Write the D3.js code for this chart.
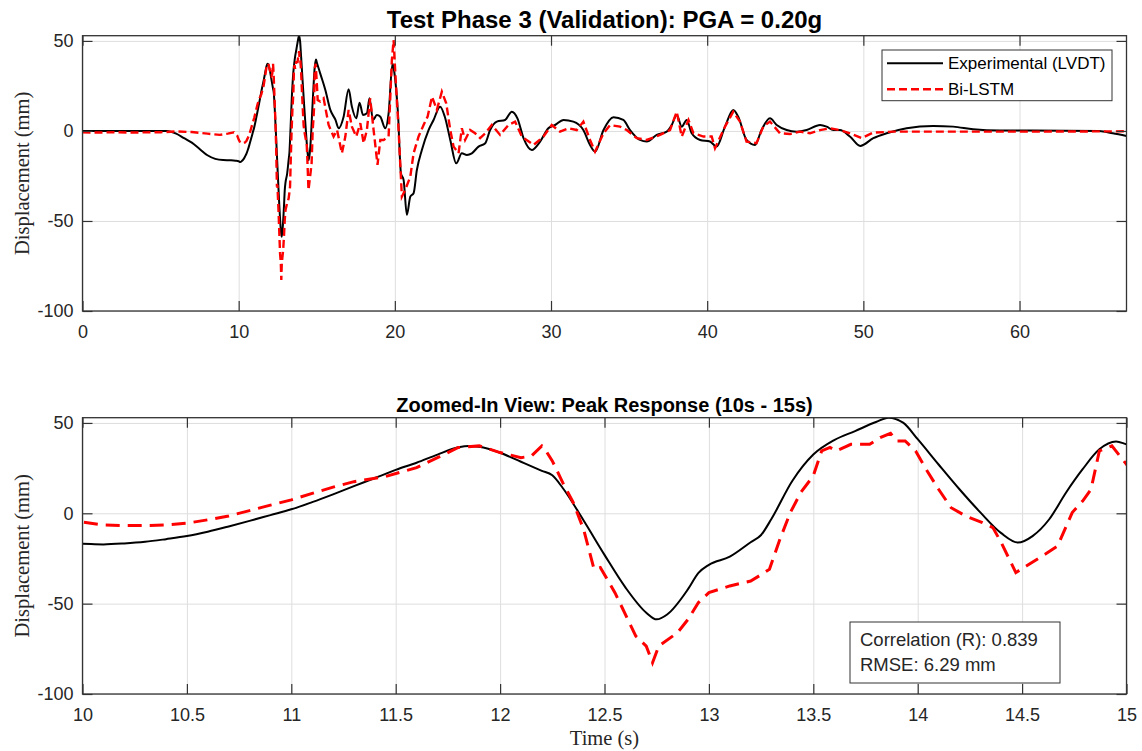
<!DOCTYPE html>
<html>
<head>
<meta charset="utf-8">
<script src="https://cdn.jsdelivr.net/npm/d3@7"></script>
<style>
body { margin: 0; background: #fff; }
svg { display: block; font-family: "Liberation Sans", Arial, sans-serif; }
.tick text { fill: #262626; font-size: 18px; }
.grid line { stroke: #dedede; stroke-width: 1; }
.grid path, .ticks path, .lbl path { display: none; }
.ticks line { stroke: #333; stroke-width: 1.2; }
.lbl line { display: none; }
.frame { fill: none; stroke: #333; stroke-width: 1.3; }
.ylab, .xlab { font-family: "Liberation Serif", "Times New Roman", serif; font-size: 20.5px; fill: #262626; }
</style>
</head>
<body>
<script>
// experimental (LVDT) displacement, mm
var tExp = [0, 5.4, 6.0, 6.5, 7.0, 7.5, 8.0, 8.5, 9.0, 9.5, 9.8, 10.0, 10.1, 10.2, 10.3, 10.4, 10.5, 10.6, 10.7, 10.8, 10.9,
  11.0, 11.1, 11.2, 11.3, 11.4, 11.5, 11.6, 11.7, 11.8, 11.85, 11.9, 12.0, 12.1, 12.2, 12.25, 12.3, 12.4, 12.5, 12.6, 12.7,
  12.75, 12.8, 12.9, 12.95, 13.0, 13.1, 13.2, 13.25, 13.3, 13.4, 13.5, 13.6, 13.7, 13.8, 13.86, 13.93, 14.0, 14.1, 14.2,
  14.3, 14.4, 14.48, 14.55, 14.63, 14.71, 14.79, 14.87, 14.95, 15.0, 15.22, 15.55, 15.87, 16.2, 16.4, 16.72, 17.04, 17.25,
  17.53, 17.74, 17.96, 18.21, 18.38, 18.6, 18.85, 19.07, 19.39, 19.6, 19.85, 19.96, 20.2, 20.39, 20.56, 20.77, 20.99, 21.2,
  21.41, 21.73, 22.16, 22.48, 22.9, 23.2, 23.55, 23.93, 24.29, 24.61, 24.93, 25.36, 25.79, 26.1, 26.53, 27.06, 27.49, 27.85,
  28.24, 28.77, 29.3, 29.83, 30.26, 30.8, 31.43, 32.07, 32.5, 32.82, 33.36, 34.0, 34.63, 35.06, 35.7, 36.13, 36.77, 37.41,
  37.73, 38.05, 38.37, 38.69, 39.01, 39.55, 40.18, 40.6, 41.14, 41.67, 41.99, 42.52, 43.06, 43.48, 44.02, 44.45, 45.09,
  45.73, 46.37, 47.23, 47.65, 48.08, 48.5, 49.14, 49.8, 50.64, 51.49, 52.77, 54.47, 55.75, 57.03, 58.74, 60.87, 65.1,
  65.97, 66.85];
var dExp = [0, 0, -1.5, -4, -6.5, -10, -13.5, -15.5, -16.2, -16.3, -16.5, -16.8, -17.2, -16.7, -15.8, -14.3, -12.6, -10.2, -7.3, -4.2, -1.0,
  2.2, 6.2, 10.5, 15, 19.5, 24, 28, 32.5, 36.5, 37.3, 36.8, 33.5, 28.5, 23.5, 21, 14, -4, -23, -41, -55,
  -58.7, -56, -42, -33, -28.5, -24, -16, -12, -3, 18, 32.5, 40.5, 45.5, 50.5, 52.9, 50.2, 41, 27, 13.3,
  0.5, -11, -16.2, -12.6, -3.3, 11.4, 24.4, 35.4, 39.7, 38.2, 32, 22.8, 11.7, 6.1, 1.5, 7.9, 23.1, 13.5,
  7, 15.7, 8.9, 9.8, 18.1, 6.1, 8.9, 7.9, 1.5, 9.8, 37.5, 33, 9.8, -23.5, -27.2, -46.6, -36.5, -34.6,
  -21.7, -10.6, 0.5, 6.1, 13.5, 7.9, -5, -18, -12.4, -13.3, -12.4, -8.7, -6.8, 0.5, 5.2, 6.1, 10.7, 7,
  -4, -10.6, -5.9, 1.5, 3.3, 6.1, 5.2, 0.5, -7.8, -11.5, 0.5, 7.6, 6.1, 0.5, -5, -5.9, -2.2, -0.4,
  3.3, 8.9, 2.4, 6.1, -1.3, -5, -5.9, -8.7, 2.4, 11.7, 7.9, -5, -7.8, 0.5, 7, 3.3, 0.5,
  -0.4, 0.5, 3.3, 2.4, 0.5, 0.5, -3.1, -8.3, -4, -1.3, 1.5, 2.8, 2.4, 0.9, 0.2, 0.2, 0,
  -1.3, -2.8];

// Bi-LSTM prediction, mm
var tNet = [0, 1, 2, 3, 4, 5, 6, 7, 8, 8.8, 9.3, 9.7, 9.9, 10.0, 10.1, 10.2, 10.3, 10.4, 10.5, 10.6, 10.7, 10.8, 10.9,
  11.0, 11.1, 11.2, 11.3, 11.45, 11.6, 11.7, 11.8, 11.9, 12.0, 12.1, 12.15, 12.2, 12.22, 12.25, 12.3, 12.35, 12.4, 12.45,
  12.48, 12.55, 12.65, 12.7, 12.73, 12.76, 12.85, 12.9, 12.95, 13.0, 13.1, 13.2, 13.25, 13.29, 13.34, 13.39, 13.44, 13.5,
  13.54, 13.58, 13.61, 13.68, 13.77, 13.82, 13.87, 13.9, 13.94, 13.99, 14.04, 14.1, 14.16, 14.23, 14.31, 14.36, 14.4,
  14.47, 14.52, 14.61, 14.67, 14.74, 14.79, 14.83, 14.87, 14.93, 15.0, 15.06, 15.22, 15.44, 15.76, 16.08, 16.3, 16.61,
  16.83, 17.04, 17.25, 17.53, 17.79, 18.0, 18.21, 18.42, 18.64, 18.89, 19.07, 19.28, 19.6, 19.81, 19.92, 20.02, 20.24,
  20.45, 20.66, 20.99, 21.2, 21.52, 21.84, 22.1, 22.38, 22.69, 23.01, 23.29, 23.55, 23.76, 24.08, 24.29, 24.5, 24.82,
  25.14, 25.46, 25.79, 26.21, 26.74, 27.27, 27.7, 28.13, 28.88, 29.52, 30.05, 30.58, 31.12, 31.65, 32.07, 32.5, 32.82,
  33.36, 33.78, 34.42, 34.85, 35.49, 36.13, 36.98, 37.62, 38.05, 38.37, 38.8, 39.12, 39.76, 40.29, 40.5, 41.14, 41.67,
  42.1, 42.52, 43.16, 43.59, 44.02, 44.66, 45.3, 45.94, 46.58, 47.23, 47.87, 48.5, 49.14, 49.89, 50.64, 51.92, 55, 60,
  66.85];
var dNet = [-0.8, -0.9, -0.7, -0.9, -0.8, -0.7, -0.3, -0.6, -1.5, -2.2, -1.5, -0.8, -2.5, -4.8, -6.5, -6.8, -6.8, -6.4, -5.5, -3.6, -1.5, 1.5, 4.5,
  7.4, 11, 14.5, 17.5, 20.3, 25.3, 30.8, 36.4, 37.3, 33.6, 30.8, 31.7, 37.3, 34.5, 29, 17, 6, -8.9, -31,
  -30, -43.9, -68, -73.5, -82.7, -73.5, -66, -58.7, -49.4, -43.9, -40.2, -37.5, -34, -31, -14.4, 0.4, 11.5, 20.7,
  34.5, 36.5, 34.5, 38.2, 38.2, 41.9, 44.3, 40, 40, 34.5, 24.4, 13.3, 3.1, -1.5, -5.2, -7.9, -16.2,
  -32.8, -29.2, -22.7, -18.1, 0.4, 6.8, 13.3, 34.5, 37.3, 27.1, 17.2, 16.3, 18.1, 3.3, -3.1, 0.5, -12.4,
  -3.1, 11.7, 2.4, -3.1, 4.3, -6.8, 0.5, 18.1, 0.5, -18.8, -5, -5, -3.1, 39.4, 50.5, 33.9, 0.5,
  -36.5, -32.8, -25.4, -12.4, -3.1, 3.3, 8, 19, 11.7, 21.8, 15.4, 0.5, -8.7, -12.4, 1.5, -5, 0.5,
  -1.3, -4, -1.3, 3.3, -2.2, 3.3, 5.2, -3.1, -7.8, -3.1, 3.3, -0.4, 1.5, 0.5, 5.2, -5, -11.5,
  -1.3, 3.3, 2.4, 0.5, -4, -5, -2.2, 0.5, 10.7, -3.1, 6.1, -1.3, -3.1, -3.1, -9.6, 2.4, 10.7,
  5.2, -5.9, -6.8, 2.4, 5.2, -1.3, -1.7, -0.4, -1.3, 0.5, 1.5, 0.5, -1.3, -4, -0.9, -0.4, -0.4, -0.4,
  -0.2];

var yTicks = [-100, -50, 0, 50];
var xTicksFull = [0, 10, 20, 30, 40, 50, 60];
var xTicksZoom = [10, 10.5, 11, 11.5, 12, 12.5, 13, 13.5, 14, 14.5, 15];
var seriesNames = ["Experimental (LVDT)", "Bi-LSTM"];
var stats = ["Correlation (R): 0.839", "RMSE: 6.29 mm"];

var W = 1142, H = 751;
var svg = d3.select("body").append("svg").attr("width", W).attr("height", H);

var expPts = tExp.map(function(t, i) { return [t, dExp[i]]; });
var netPts = tNet.map(function(t, i) { return [t, dNet[i]]; });

function panel(id, top, bottom, xDom, xTicks, title, titleY, titleSize, redW, redDash) {
  var left = 82.5, right = 1126.5;
  var x = d3.scaleLinear().domain(xDom).range([left, right]);
  var y = d3.scaleLinear().domain([-100, 52.9]).range([bottom, top]);
  var h = bottom - top, w = right - left;

  svg.append("clipPath").attr("id", id).append("rect")
    .attr("x", left).attr("y", top).attr("width", w).attr("height", h);

  // grid
  svg.append("g").attr("class", "grid").attr("transform", "translate(0," + bottom + ")")
    .call(d3.axisBottom(x).tickValues(xTicks).tickSize(-h).tickFormat(""));
  svg.append("g").attr("class", "grid").attr("transform", "translate(" + left + ",0)")
    .call(d3.axisLeft(y).tickValues(yTicks).tickSize(-w).tickFormat(""));

  // data
  var line = d3.line().x(function(d) { return x(d[0]); }).y(function(d) { return y(d[1]); });
  var g = svg.append("g").attr("clip-path", "url(#" + id + ")");
  g.append("path").datum(expPts).attr("fill", "none").attr("stroke", "#000").attr("stroke-width", 2)
    .attr("stroke-linejoin", "round").attr("d", line.curve(d3.curveMonotoneX));
  g.append("path").datum(netPts).attr("fill", "none").attr("stroke", "#ff0000").attr("stroke-width", redW)
    .attr("stroke-dasharray", redDash).attr("d", line.curve(d3.curveLinear));

  // inside ticks on all four sides
  svg.append("g").attr("class", "ticks").attr("transform", "translate(0," + bottom + ")")
    .call(d3.axisBottom(x).tickValues(xTicks).tickSize(-10).tickFormat(""));
  svg.append("g").attr("class", "ticks").attr("transform", "translate(0," + top + ")")
    .call(d3.axisTop(x).tickValues(xTicks).tickSize(-10).tickFormat(""));
  svg.append("g").attr("class", "ticks").attr("transform", "translate(" + left + ",0)")
    .call(d3.axisLeft(y).tickValues(yTicks).tickSize(-10).tickFormat(""));
  svg.append("g").attr("class", "ticks").attr("transform", "translate(" + right + ",0)")
    .call(d3.axisRight(y).tickValues(yTicks).tickSize(-10).tickFormat(""));

  // labels
  svg.append("g").attr("class", "lbl").attr("transform", "translate(0," + bottom + ")")
    .call(d3.axisBottom(x).tickValues(xTicks).tickSize(0).tickPadding(14.7).tickFormat(function(d) { return String(d); }));
  svg.append("g").attr("class", "lbl").attr("transform", "translate(" + left + ",0)")
    .call(d3.axisLeft(y).tickValues(yTicks).tickSize(0).tickPadding(9).tickFormat(function(d) { return String(d); }));

  svg.append("rect").attr("class", "frame").attr("x", left).attr("y", top).attr("width", w).attr("height", h);

  svg.append("text").attr("x", (left + right) / 2).attr("y", titleY).attr("text-anchor", "middle")
    .attr("font-weight", "bold").attr("font-size", titleSize).attr("fill", "#000").text(title);

  svg.append("text").attr("class", "ylab")
    .attr("transform", "translate(29," + ((top + bottom) / 2) + ") rotate(-90)")
    .attr("text-anchor", "middle").text("Displacement (mm)");

  return { x: x, y: y };
}

panel("clipTop", 35.7, 311, [0, 66.85], xTicksFull, "Test Phase 3 (Validation): PGA = 0.20g", 28.3, "24px", 2.4, "8,4");
panel("clipZoom", 417.7, 694, [10, 15], xTicksZoom, "Zoomed-In View: Peak Response (10s - 15s)", 411.5, "20px", 3, "14,8");

svg.append("text").attr("class", "xlab").attr("x", 604.5).attr("y", 745).attr("text-anchor", "middle").text("Time (s)");

// legend
var lg = svg.append("g");
lg.append("rect").attr("x", 882).attr("y", 50).attr("width", 230).attr("height", 50.7)
  .attr("fill", "#fff").attr("stroke", "#333").attr("stroke-width", 1);
var rows = [{ c: "#000", w: 2, dash: null, y: 63.3 }, { c: "#ff0000", w: 2.4, dash: "8,4", y: 89.3 }];
rows.forEach(function(r, i) {
  lg.append("line").attr("x1", 887).attr("x2", 943).attr("y1", r.y).attr("y2", r.y)
    .attr("stroke", r.c).attr("stroke-width", r.w).attr("stroke-dasharray", r.dash);
  lg.append("text").attr("x", 948).attr("y", r.y).attr("dy", "0.35em").attr("font-size", "17px")
    .attr("fill", "#000").text(seriesNames[i]);
});

// stats box
var sb = svg.append("g");
sb.append("rect").attr("x", 850).attr("y", 622).attr("width", 210).attr("height", 61)
  .attr("fill", "#fff").attr("stroke", "#333").attr("stroke-width", 1);
stats.forEach(function(s, i) {
  sb.append("text").attr("x", 860).attr("y", 640 + i * 24.3).attr("dy", "0.35em").attr("font-size", "18.5px")
    .attr("fill", "#262626").text(s);
});
</script>
</body>
</html>
